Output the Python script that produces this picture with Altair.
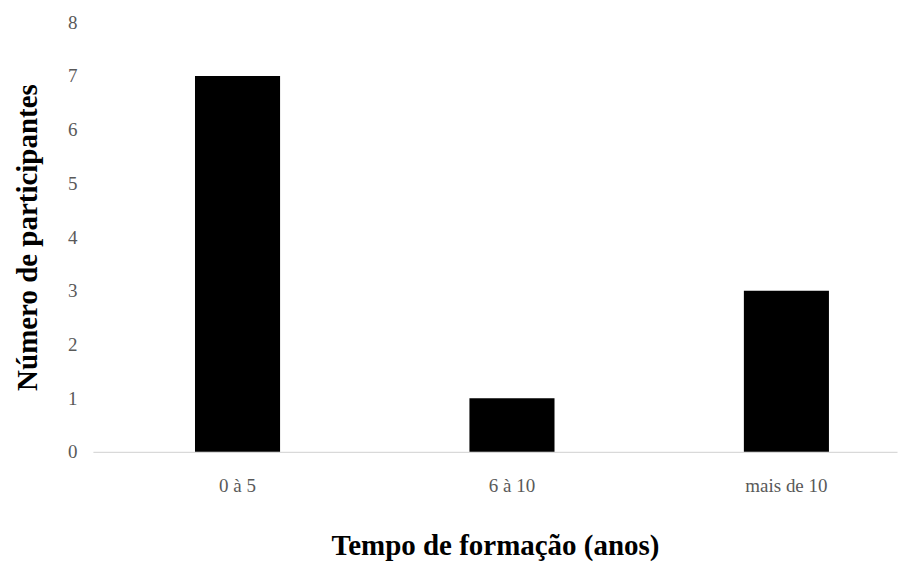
import altair as alt
import pandas as pd

categorias = ["0 à 5", "6 à 10", "mais de 10"]
participantes = [7, 1, 3]
y_ticks = [0, 1, 2, 3, 4, 5, 6, 7, 8]

df = pd.DataFrame({"Tempo": categorias, "Participantes": participantes})

FONT = "Liberation Serif"

chart = alt.Chart(df).mark_bar(color="#000000").encode(
    x=alt.X(
        "Tempo:N",
        sort=categorias,
        scale=alt.Scale(paddingInner=0.69, paddingOuter=0.31, align=0.6),
        axis=alt.Axis(
            title="Tempo de formação (anos)",
            labelAngle=0,
            ticks=False,
            domainColor="#d9d9d9",
            domainWidth=1.2,
            labelFont=FONT,
            labelFontSize=19,
            labelColor="#595959",
            labelPadding=25,
            titleFont=FONT,
            titleFontSize=29,
            titleFontWeight="bold",
            titleColor="#000000",
            titlePadding=36,
        ),
    ),
    y=alt.Y(
        "Participantes:Q",
        scale=alt.Scale(domain=[0, 8]),
        axis=alt.Axis(
            values=y_ticks,
            title="Número de participantes",
            grid=False,
            domain=False,
            ticks=False,
            labelFont=FONT,
            labelFontSize=19,
            labelColor="#595959",
            labelPadding=16,
            titleFont=FONT,
            titleFontSize=29,
            titleFontWeight="bold",
            titleColor="#000000",
            titlePadding=25,
        ),
    ),
).properties(width=805, height=430, background="#ffffff").configure_view(stroke="transparent", strokeWidth=0)

chart.save("out.html", embed_options={"renderer": "svg", "actions": False})
